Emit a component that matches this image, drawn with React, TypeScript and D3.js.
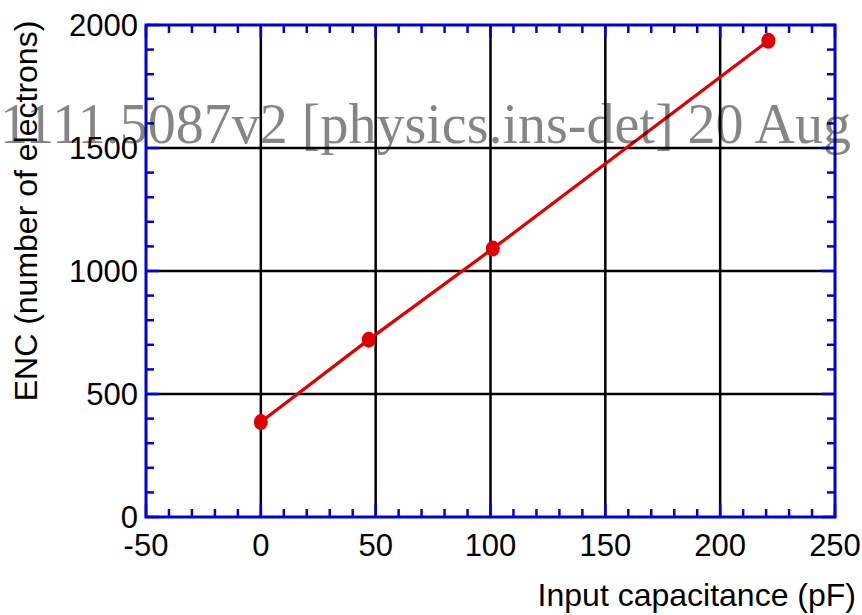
import React from "react";
import * as d3 from "d3";

const capacitance = [0, 47, 101, 221];
const encValues = [386, 721, 1091, 1936];
const xTickValues = [-50, 0, 50, 100, 150, 200, 250];
const yTickValues = [0, 500, 1000, 1500, 2000];
const xGridValues = [0, 50, 100, 150, 200];
const yGridValues = [500, 1000, 1500];
const watermark = "arXiv:1111.5087v2 [physics.ins-det] 20 Aug 2012";

const W = 862;
const H = 615;
const L = 146, R = 835, T = 25, B = 517;
const BLUE = "#0000dc";
const RED = "#e00000";
const FONT = "'Liberation Sans', Arial, Helvetica, sans-serif";

export default function App() {
  const x = d3.scaleLinear().domain([-50, 250]).range([L, R]);
  const y = d3.scaleLinear().domain([0, 2000]).range([B, T]);
  const xMinor = d3.range(-50, 251, 10);
  const yMinor = d3.range(0, 2001, 100);
  const line = d3
    .line<number>()
    .x((_, i) => x(capacitance[i]))
    .y((d) => y(d));
  const majorLen = 13;
  const minorLen = 8;
  const isMajX = (v: number) => v % 50 === 0;
  const isMajY = (v: number) => v % 500 === 0;

  return (
    <svg
      width={W}
      height={H}
      style={{ position: "absolute", left: 0, top: 0, background: "#fff" }}
    >
      <rect x={0} y={0} width={W} height={H} fill="#fff" />
      {/* grid */}
      {xGridValues.map((v) => (
        <line key={"gx" + v} x1={x(v)} x2={x(v)} y1={T} y2={B} stroke="#000" strokeWidth={2.5} />
      ))}
      {yGridValues.map((v) => (
        <line key={"gy" + v} x1={L} x2={R} y1={y(v)} y2={y(v)} stroke="#000" strokeWidth={2.5} />
      ))}
      {/* ticks */}
      {xMinor.map((v) => {
        const len = isMajX(v) ? majorLen : minorLen;
        return (
          <g key={"tx" + v}>
            <line x1={x(v)} x2={x(v)} y1={B} y2={B - len} stroke={BLUE} strokeWidth={2.5} />
            <line x1={x(v)} x2={x(v)} y1={T} y2={T + len} stroke={BLUE} strokeWidth={2.5} />
          </g>
        );
      })}
      {yMinor.map((v) => {
        const len = isMajY(v) ? majorLen : minorLen;
        return (
          <g key={"ty" + v}>
            <line x1={L} x2={L + len} y1={y(v)} y2={y(v)} stroke={BLUE} strokeWidth={2.5} />
            <line x1={R} x2={R - len} y1={y(v)} y2={y(v)} stroke={BLUE} strokeWidth={2.5} />
          </g>
        );
      })}
      {/* frame */}
      <rect x={L} y={T} width={R - L} height={B - T} fill="none" stroke={BLUE} strokeWidth={3} />
      {/* data */}
      <path d={line(encValues) || ""} fill="none" stroke={RED} strokeWidth={3.2} />
      {encValues.map((v, i) => (
        <ellipse key={"p" + i} cx={x(capacitance[i])} cy={y(v)} rx={7} ry={8} fill={RED} />
      ))}
      {/* tick labels */}
      {xTickValues.map((v) => (
        <text
          key={"lx" + v}
          x={x(v)}
          y={556}
          textAnchor="middle"
          fontFamily={FONT}
          fontSize={31}
          fill="#000"
        >
          {v}
        </text>
      ))}
      {yTickValues.map((v) => (
        <text
          key={"ly" + v}
          x={138}
          y={y(v) + 11}
          textAnchor="end"
          fontFamily={FONT}
          fontSize={31}
          fill="#000"
        >
          {v}
        </text>
      ))}
      {/* axis titles */}
      <text x={856} y={606} textAnchor="end" fontFamily={FONT} fontSize={32} fill="#000">
        Input capacitance (pF)
      </text>
      <text
        transform={`translate(37,211) rotate(-90)`}
        textAnchor="middle"
        fontFamily={FONT}
        fontSize={32}
        fill="#000"
      >
        ENC (number of electrons)
      </text>
      {/* watermark */}
      <text
        x={-143}
        y={143}
        fontFamily="'Liberation Serif', 'Times New Roman', serif"
        fontSize={56}
        fill="#000"
        fillOpacity={0.48}
      >
        {watermark}
      </text>
    </svg>
  );
}
